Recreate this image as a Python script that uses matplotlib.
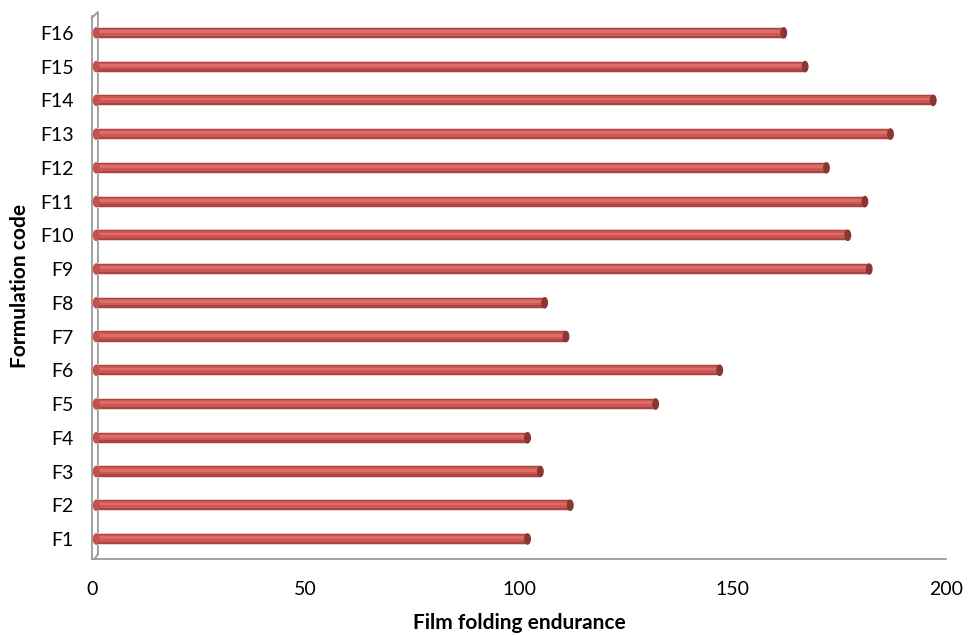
import matplotlib.pyplot as plt
from matplotlib.patches import Ellipse
import numpy as np

codes = ["F1", "F2", "F3", "F4", "F5", "F6", "F7", "F8",
         "F9", "F10", "F11", "F12", "F13", "F14", "F15", "F16"]
endurance = [101, 111, 104, 101, 131, 146, 110, 105,
             181, 176, 180, 171, 186, 196, 166, 161]
xticks = [0, 50, 100, 150, 200]

plt.rcParams['font.family'] = ['Lato', 'DejaVu Sans']

fig = plt.figure(figsize=(9.68, 6.35), dpi=100)
ax = fig.add_axes([0.095, 0.1197, 0.8823, 0.8551])

y = np.arange(len(codes))
depth = 1.0  # small 3d offset of the back wall

# cylinder look: dark body, lighter band, soft halo
ax.barh(y, endurance, left=depth, height=0.36, color='#ead0cf', zorder=2)
ax.barh(y, endurance, left=depth, height=0.30, color='#a94643', zorder=3)
ax.barh(y + 0.02, endurance, left=depth, height=0.20, color='#cf5753', zorder=4)
ax.barh(y + 0.04, endurance, left=depth, height=0.08, color='#dc6e6a', zorder=5)

# flat ends of the cylinders
for yi, v in zip(y, endurance):
    ax.add_patch(Ellipse((v + depth, yi), 1.3, 0.30, color='#8a3633', zorder=6))
    ax.add_patch(Ellipse((depth, yi), 1.3, 0.30, color='#c4514d', zorder=6))

ax.set_xlim(0, 200)
ax.set_ylim(-0.593, 15.5)
ax.set_xticks(xticks)
ax.set_yticks(y)
ax.set_yticklabels(codes)

for s in ['top', 'right']:
    ax.spines[s].set_visible(False)
for s in ['left', 'bottom']:
    ax.spines[s].set_color('#9a9a9a')
    ax.spines[s].set_linewidth(1.3)

# inner wall line with slanted top
ax.plot([1.4, 1.4, 0], [-0.45, 15.62, 15.45], color='#9a9a9a', lw=1.3, clip_on=False, zorder=1)
ax.plot([1.4, 0.6], [-0.45, -0.593], color='#9a9a9a', lw=1.3, clip_on=False, zorder=1)

ax.tick_params(axis='both', length=0, labelsize=14, colors='#000000')
ax.tick_params(axis='x', pad=16)
ax.tick_params(axis='y', pad=13)

ax.set_xlabel("Film folding endurance", fontsize=15, fontweight='bold', va='center')
ax.set_ylabel("Formulation code", fontsize=15, fontweight='bold', va='center')
ax.xaxis.set_label_coords(0.5, -0.118)
ax.yaxis.set_label_coords(-0.0843, 0.503)

fig.savefig("out.png", dpi=100)
